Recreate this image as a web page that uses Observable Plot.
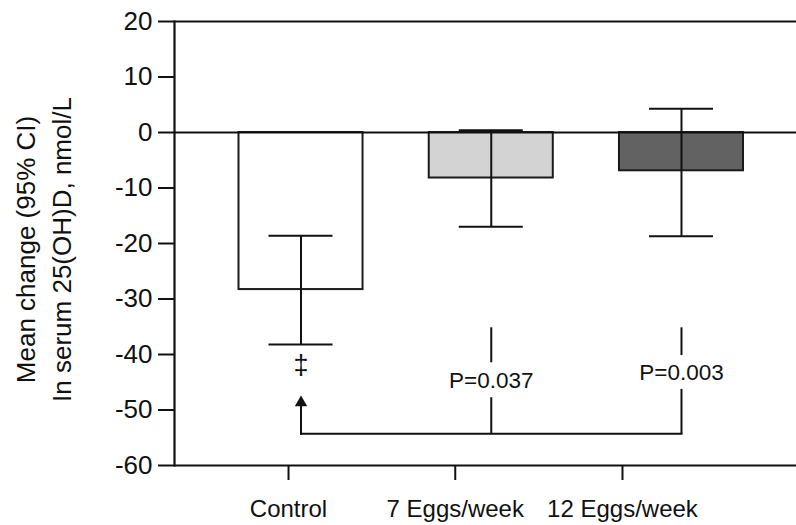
<!DOCTYPE html>
<html><head><meta charset="utf-8">
<script src="https://cdn.jsdelivr.net/npm/d3@7"></script>
<script src="https://cdn.jsdelivr.net/npm/@observablehq/plot@0.6"></script>
<style>html,body{margin:0;padding:0;background:#fff}svg{display:block}</style>
</head><body><div id="chart"></div>
<script>
// ---- data ----
const groups = ["Control", "7 Eggs/week", "12 Eggs/week"];
const meanChange = [-28.3, -8.2, -6.9];
const ciLow = [-38.2, -17.0, -18.7];
const ciHigh = [-18.6, 0.4, 4.3];
const barFills = ["#ffffff", "#d3d3d3", "#626262"];
const yTicks = [-60, -50, -40, -30, -20, -10, 0, 10, 20];
const yLabel = "Mean change (95% CI)\nIn serum 25(OH)D, nmol/L";
// comparison annotation (vs Control)
const pGroups = ["7 Eggs/week", "12 Eggs/week"];
const pTexts = ["P=0.037", "P=0.003"];
const pTextY = [-44.7, -43.3];
const pUpperSeg = [[-35.1, -41.4], [-35.1, -40.1]];
const pLowerSeg = [[-47.7, -54.3], [-46.2, -54.3]];
const bracketY = -54.3;
const arrowTipY = -47.4;
const daggerY = -41.9;
const daggerText = "\u2021";
const tickShift = [-12.5, -36, -59];

// ---- tables built from the arrays ----
const rows = groups.map((g, i) => ({group: g, mean: meanChange[i], lo: ciLow[i], hi: ciHigh[i]}));
const segs = pGroups.flatMap((g, i) => [
  {group: g, y1: pUpperSeg[i][0], y2: pUpperSeg[i][1]},
  {group: g, y1: pLowerSeg[i][0], y2: pLowerSeg[i][1]}
]);
const pRows = pGroups.map((g, i) => ({group: g, y: pTextY[i], text: pTexts[i]}));

const ink = "#111";
const xAxes = groups.map((g, i) => Plot.axisX({
  ticks: [g], dx: tickShift[i], tickSize: 15, tickPadding: 19, fontSize: 24,
  strokeWidth: 2, label: null
}));

const chart = Plot.plot({
  width: 796,
  height: 525,
  marginLeft: 174,
  marginRight: 0,
  marginTop: 21,
  marginBottom: 60,
  style: {fontFamily: "'Liberation Sans', Arial, sans-serif", color: ink, background: "#fff"},
  x: {type: "band", domain: groups, paddingInner: 0.348, paddingOuter: 0, insetLeft: 64.5, insetRight: 53, round: false},
  y: {domain: [-60, 20]},
  color: {domain: groups, range: barFills},
  marks: [
    Plot.barY(rows, {x: "group", y: "mean", fill: "group", stroke: "#1a1a1a", strokeWidth: 2}),
    Plot.ruleY([0, 20, -60], {stroke: ink, strokeWidth: 2.2}),
    Plot.frame({anchor: "left", stroke: ink, strokeWidth: 2.2}),
    Plot.ruleX(rows, {x: "group", y1: "lo", y2: "hi", stroke: ink, strokeWidth: 2}),
    Plot.tickY(rows, {x: "group", y: "lo", insetLeft: 30, insetRight: 30, stroke: ink, strokeWidth: 2}),
    Plot.tickY(rows, {x: "group", y: "hi", insetLeft: 30, insetRight: 30, stroke: ink, strokeWidth: 2}),
    Plot.axisY({ticks: yTicks, tickSize: 16, tickPadding: 6, fontSize: 26, strokeWidth: 2, label: null, tickFormat: d => String(d)}),
    ...xAxes,
    Plot.text([yLabel], {frameAnchor: "left", textAnchor: "middle", rotate: -90, lineAnchor: "top", dx: -165, dy: 6, fontSize: 26, lineHeight: 1.38, text: d => d, fill: ink}),
    // annotation
    Plot.text([{group: groups[0], y: daggerY}], {x: "group", y: "y", text: () => daggerText, fontSize: 27, fill: ink, stroke: "none"}),
    Plot.link(segs, {x1: "group", x2: "group", y1: "y1", y2: "y2", stroke: ink, strokeWidth: 2}),
    Plot.link([{a: groups[0], b: groups[2], y: bracketY}], {x1: "a", x2: "b", y1: "y", y2: "y", stroke: ink, strokeWidth: 2, strokeLinecap: "square"}),
    Plot.link([{group: groups[0], y1: bracketY, y2: arrowTipY - 0.6}], {x1: "group", x2: "group", y1: "y1", y2: "y2", stroke: ink, strokeWidth: 2, strokeLinecap: "square"}),
    Plot.dot([{group: groups[0], y: arrowTipY}], {x: "group", y: "y", symbol: "triangle", r: 4.6, fill: ink, dy: 7}),
    Plot.text(pRows, {x: "group", y: "y", text: "text", fontSize: 22.5, fill: ink})
  ]
});
document.getElementById("chart").appendChild(chart);
</script>
</body></html>
